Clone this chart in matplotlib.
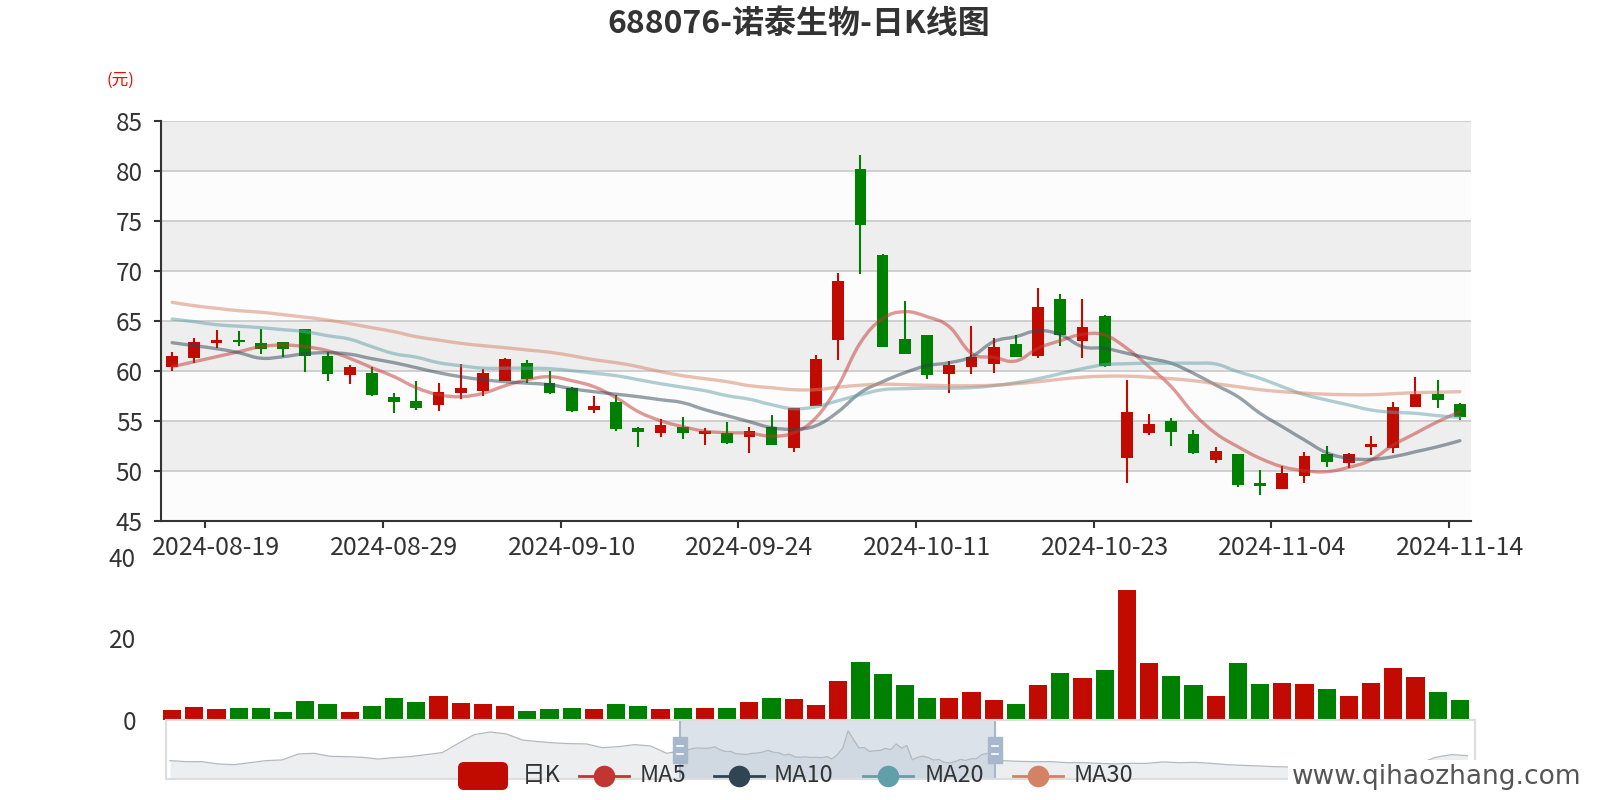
import numpy as np
import matplotlib.pyplot as plt
from matplotlib.patches import Rectangle, FancyBboxPatch, PathPatch
from matplotlib.path import Path
from matplotlib.transforms import blended_transform_factory

plt.rcParams['font.family'] = ['Noto Sans CJK SC', 'DejaVu Sans']

# ---- data ----
dates = ['2024-08-15', '2024-08-16', '2024-08-19', '2024-08-20', '2024-08-21', '2024-08-22',
         '2024-08-23', '2024-08-26', '2024-08-27', '2024-08-28', '2024-08-29', '2024-08-30',
         '2024-09-02', '2024-09-03', '2024-09-04', '2024-09-05', '2024-09-06', '2024-09-09',
         '2024-09-10', '2024-09-11', '2024-09-12', '2024-09-13', '2024-09-18', '2024-09-19',
         '2024-09-20', '2024-09-23', '2024-09-24', '2024-09-25', '2024-09-26', '2024-09-27',
         '2024-09-30', '2024-10-08', '2024-10-09', '2024-10-10', '2024-10-11', '2024-10-14',
         '2024-10-15', '2024-10-16', '2024-10-17', '2024-10-18', '2024-10-21', '2024-10-22',
         '2024-10-23', '2024-10-24', '2024-10-25', '2024-10-28', '2024-10-29', '2024-10-30',
         '2024-10-31', '2024-11-01', '2024-11-04', '2024-11-05', '2024-11-06', '2024-11-07',
         '2024-11-08', '2024-11-11', '2024-11-12', '2024-11-13', '2024-11-14']

opens = [60.40, 61.23, 62.73, 63.10, 62.77, 62.90, 64.14, 61.47, 59.60, 59.74, 57.40, 57.00,
         56.60, 57.80, 58.00, 58.97, 60.74, 58.80, 58.30, 56.10, 56.90, 54.24, 53.74, 54.34,
         53.64, 53.80, 53.40, 54.40, 52.24, 56.47, 63.07, 80.17, 71.57, 63.17, 63.57, 59.64,
         60.40, 60.67, 62.64, 61.50, 67.14, 63.00, 65.47, 51.30, 53.74, 54.97, 53.64, 51.07,
         51.67, 48.74, 48.14, 49.50, 51.67, 50.74, 52.34, 52.30, 56.40, 57.64, 56.67]
closes = [61.47, 62.90, 63.07, 62.87, 62.14, 62.14, 61.47, 59.67, 60.34, 57.60, 56.90, 56.24,
          57.87, 58.24, 59.74, 61.20, 59.20, 57.80, 55.97, 56.50, 54.14, 53.84, 54.57, 53.80,
          53.97, 52.80, 54.00, 52.57, 56.27, 61.14, 68.97, 74.60, 62.40, 61.64, 59.57, 60.57,
          61.40, 62.40, 61.40, 66.34, 63.57, 64.34, 60.50, 55.87, 54.64, 53.90, 51.74, 51.97,
          48.54, 48.47, 49.80, 51.50, 50.84, 51.67, 52.67, 56.40, 57.67, 57.07, 55.34]
highs = [61.90, 63.27, 64.07, 63.97, 64.17, 62.90, 64.14, 61.90, 60.57, 60.40, 57.74, 58.97,
         58.74, 60.67, 60.17, 61.30, 61.07, 60.00, 58.40, 57.47, 57.57, 54.40, 55.14, 55.40,
         54.24, 54.87, 54.34, 55.54, 56.27, 61.54, 69.74, 81.57, 71.67, 66.97, 63.57, 60.97,
         64.50, 63.24, 63.57, 68.24, 67.64, 67.17, 65.57, 59.07, 55.67, 55.24, 54.07, 52.34,
         51.67, 50.07, 50.47, 51.90, 52.47, 51.80, 53.47, 56.90, 59.34, 59.07, 56.80]
lows = [60.00, 60.80, 62.23, 62.50, 61.67, 61.37, 59.90, 59.00, 58.70, 57.50, 55.74, 56.07,
        56.00, 57.17, 57.47, 58.97, 58.74, 57.67, 55.90, 55.74, 54.00, 52.40, 53.34, 53.14,
        52.57, 52.67, 51.80, 52.57, 51.84, 56.47, 61.07, 69.67, 62.40, 61.64, 59.20, 57.80,
        59.64, 59.80, 61.34, 61.24, 62.50, 61.24, 60.40, 48.80, 53.57, 52.47, 51.64, 50.74,
        48.40, 47.57, 48.14, 48.74, 50.40, 50.24, 51.57, 51.74, 56.40, 56.24, 55.10]
volumes = [2.45, 3.26, 2.70, 2.87, 2.87, 2.04, 4.54, 3.93, 1.96, 3.44, 5.40, 4.42,
           5.96, 4.17, 3.93, 3.44, 2.20, 2.70, 2.94, 2.70, 3.93, 3.44, 2.70, 2.94,
           2.94, 2.94, 4.42, 5.40, 5.15, 3.68, 9.57, 14.30, 11.29, 8.59, 5.40, 5.47,
           6.87, 4.83, 3.85, 8.59, 11.53, 10.31, 12.27, 31.90, 13.91, 10.80, 8.59, 5.96,
           14.06, 8.91, 9.08, 8.76, 7.61, 5.82, 9.08, 12.76, 10.55, 6.94, 4.98]

ma5 = [60.40, 60.90, 61.40, 61.90, 62.40, 62.57, 62.40, 62.00, 61.24, 60.30, 59.40, 58.30,
       57.60, 57.40, 57.74, 58.50, 59.10, 59.40, 59.00, 58.40, 57.30, 55.90, 55.00, 54.40,
       53.95, 53.80, 53.75, 53.45, 53.80, 55.30, 58.50, 62.80, 65.20, 65.90, 65.40, 64.40,
       61.74, 61.34, 60.97, 62.24, 63.00, 63.64, 63.57, 62.24, 60.40, 58.40, 55.74, 53.74,
       52.40, 51.24, 50.40, 50.00, 49.90, 50.34, 51.07, 52.57, 53.74, 54.90, 55.90]
ma10 = [62.80, 62.50, 62.20, 61.80, 61.25, 61.40, 61.70, 61.80, 61.65, 61.20, 60.80, 60.30,
        59.80, 59.40, 59.10, 58.90, 58.75, 58.60, 58.20, 57.90, 57.65, 57.40, 57.10, 56.80,
        56.10, 55.50, 54.90, 54.30, 54.15, 54.50, 55.90, 57.80, 58.90, 59.80, 60.50, 60.80,
        61.40, 62.90, 63.40, 64.00, 63.60, 62.40, 62.24, 61.74, 61.24, 60.74, 59.74, 58.57,
        57.40, 55.74, 54.40, 53.07, 51.80, 51.24, 51.14, 51.40, 51.90, 52.40, 53.00]
ma20 = [65.17, 64.90, 64.60, 64.45, 64.30, 64.10, 63.90, 63.50, 63.15, 62.40, 61.70, 61.35,
        60.80, 60.50, 60.25, 60.25, 60.25, 60.20, 60.00, 59.75, 59.50, 59.10, 58.70, 58.35,
        58.00, 57.50, 57.15, 56.60, 56.20, 56.40, 57.00, 57.60, 58.10, 58.20, 58.25, 58.25,
        58.30, 58.50, 58.80, 59.20, 59.70, 60.20, 60.60, 60.70, 60.75, 60.75, 60.75, 60.67,
        59.90, 59.24, 58.40, 57.60, 57.07, 56.57, 56.07, 55.84, 55.74, 55.50, 55.34]
ma30 = [66.84, 66.50, 66.24, 66.00, 65.85, 65.60, 65.35, 65.07, 64.70, 64.30, 63.90, 63.40,
        63.07, 62.74, 62.50, 62.30, 62.07, 61.85, 61.50, 61.10, 60.80, 60.40, 59.90, 59.50,
        59.20, 58.90, 58.50, 58.30, 58.10, 58.10, 58.35, 58.55, 58.65, 58.60, 58.55, 58.50,
        58.50, 58.55, 58.70, 58.90, 59.15, 59.35, 59.45, 59.45, 59.35, 59.20, 59.00, 58.70,
        58.40, 58.10, 57.90, 57.75, 57.65, 57.60, 57.60, 57.70, 57.80, 57.85, 57.90]

# dataZoom shadow outside the window, one value every 3rd trading day
shadow_before = [50.5, 49.5, 49.5, 47.2, 46.5, 48.5, 50.5, 51.2, 57.1, 57.8, 54.8, 54.5,
                 53.8, 52.1, 53.5, 54.5, 56.5, 58.5, 67.7, 76.4, 79.0, 77.0, 71.0, 69.4,
                 68.1, 67.4, 67.1, 63.4, 64.4, 66.4, 65.1, 57.8]
shadow_after = [50.5, 49.8, 49.5, 49.5, 48.5, 48.5, 47.8, 47.2, 47.8, 47.8, 49.2, 48.5,
                48.8, 47.8, 46.5, 45.8, 45.2, 44.5, 44.2, 44.2, 44.5, 45.2, 45.8, 46.2,
                46.2, 46.8, 47.5, 53.8, 56.5, 55.5]

title = '688076-诺泰生物-日K线图'
legend_names = ['日K', 'MA5', 'MA10', 'MA20', 'MA30']

up_color = '#c20b00'
down_color = '#008000'
ma_colors = ['#c23531', '#2f4554', '#61a0a8', '#d48265']
text_color = '#333333'

W, H = 1600, 800
fig = plt.figure(figsize=(16, 8), dpi=100)


def px_axes(x0, y0, x1, y1):
    # axes placed by pixel box (top-left origin)
    return fig.add_axes([x0 / W, 1 - y1 / H, (x1 - x0) / W, (y1 - y0) / H])


def smooth_line(ax, xs, ys, t=0.2, **kw):
    # curved line through the points (bezier control points from neighbours)
    n = len(xs)
    verts = [(xs[0], ys[0])]
    codes = [Path.MOVETO]
    for i in range(n - 1):
        a, b = max(i - 1, 0), min(i + 2, n - 1)
        c1 = (xs[i] + t * (xs[i + 1] - xs[a]), ys[i] + t * (ys[i + 1] - ys[a]))
        c2 = (xs[i + 1] - t * (xs[b] - xs[i]), ys[i + 1] - t * (ys[b] - ys[i]))
        verts += [c1, c2, (xs[i + 1], ys[i + 1])]
        codes += [Path.CURVE4] * 3
    ax.add_patch(PathPatch(Path(verts, codes), fill=False, **kw))


x = np.arange(len(dates))
o = np.array(opens)
c = np.array(closes)
colors = np.where(c >= o, up_color, down_color)

# ---- price panel ----
ax = px_axes(161, 120.7, 1471, 520.7)
ax.set_xlim(-0.5, len(dates) - 0.5)
ax.set_ylim(45, 85)
for k, lo in enumerate(range(45, 85, 5)):
    ax.axhspan(lo, lo + 5, color='#eeeeee' if k % 2 else '#fcfcfc', lw=0, zorder=0)
for v in range(50, 90, 5):
    ax.axhline(v, color='#cccccc', lw=1.3, zorder=1)

ax.vlines(x, lows, highs, colors=colors, lw=1.5, zorder=3)
ax.bar(x, np.maximum(np.abs(c - o), 0.12), bottom=np.minimum(o, c), width=0.53,
       color=colors, zorder=3)
for vals, col in zip([ma5, ma10, ma20, ma30], ma_colors):
    smooth_line(ax, x, vals, edgecolor=col, alpha=0.5, lw=2.4, zorder=4,
                joinstyle='round', capstyle='round')

for s in ['top', 'right']:
    ax.spines[s].set_visible(False)
for s in ['left', 'bottom']:
    ax.spines[s].set_color(text_color)
    ax.spines[s].set_linewidth(1.5)
ax.set_yticks(range(45, 90, 5))
ax.tick_params(axis='y', length=5, width=1.5, color=text_color, pad=8,
               labelsize=17.5, labelcolor=text_color)
lab_idx = x[2::8]
ax.set_xticks(lab_idx)
ax.set_xticklabels([dates[i] for i in lab_idx])
ax.set_xticks(lab_idx - 0.5, minor=True)
ax.tick_params(axis='x', which='major', length=0, pad=10, labelsize=18, labelcolor=text_color)
ax.tick_params(axis='x', which='minor', length=5, width=1.5, color=text_color)

# ---- volume panel ----
axv = px_axes(161, 557, 1471, 720)
axv.set_xlim(-0.5, len(dates) - 0.5)
axv.set_ylim(0, 40)
axv.bar(x, volumes, width=0.82, color=colors)
for s in axv.spines.values():
    s.set_visible(False)
axv.set_xticks([])
axv.set_yticks([0, 20, 40])
axv.tick_params(axis='y', length=0, pad=18, labelsize=17.5, labelcolor=text_color)
axv.patch.set_alpha(0)

# ---- dataZoom slider ----
axs = px_axes(166, 720.3, 1475, 779)
n_before = 3 * len(shadow_before)
sx = np.concatenate([np.arange(len(shadow_before)) * 3 - n_before, x,
                     len(dates) + 1 + np.arange(len(shadow_after)) * 3])
sy = np.concatenate([shadow_before, opens, shadow_after])
axs.set_xlim(-n_before - 0.75, len(dates) - 0.5 + 89.9)
axs.set_ylim(32.25, 90.6)
axs.fill_between(sx, sy, 32.25, color=(236 / 255, 238 / 255, 240 / 255), lw=0)
axs.plot(sx, sy, color=(178 / 255, 186 / 255, 191 / 255), lw=0.9)
axs.axvspan(-0.5, len(dates) - 0.5, color=(167 / 255, 183 / 255, 204 / 255), alpha=0.4, lw=0)
tr = blended_transform_factory(axs.transData, axs.transAxes)
for edge in [-0.5, len(dates) - 0.5]:
    axs.axvline(edge, color='#a7b7cc', lw=1.5)
    axs.add_patch(Rectangle((edge - 1.3, 0.27), 2.6, 0.45, transform=tr,
                            color='#a7b7cc', zorder=5))
    for yy in [0.43, 0.56]:
        axs.plot([edge - 0.6, edge + 0.6], [yy, yy], transform=tr, color='white',
                 lw=1.2, zorder=6)
axs.set_xticks([])
axs.set_yticks([])
for s in axs.spines.values():
    s.set_color('#dddddd')
    s.set_linewidth(1.5)

# ---- overlay: title, unit, legend, watermark (pixel coords) ----
ov = fig.add_axes([0, 0, 1, 1])
ov.set_xlim(0, W)
ov.set_ylim(H, 0)
ov.axis('off')

ov.text(799, 24, title, ha='center', va='center', fontsize=23, fontweight='bold',
        color=text_color)
ov.text(120, 80, '(元)', ha='center', va='center', fontsize=12, color='red')

ly = 776
ov.add_patch(FancyBboxPatch((460, 764), 46, 24, boxstyle='round,pad=2,rounding_size=6',
                            color=up_color, lw=0))
ov.text(522, ly, legend_names[0], va='center', ha='left', fontsize=17, color=text_color)
icon_x = [579, 714, 863, 1013]
text_x = [640, 774, 925, 1074]
for name, col, ix, tx in zip(legend_names[1:], ma_colors, icon_x, text_x):
    ov.plot([ix, ix + 50], [ly, ly], color=col, lw=2)
    ov.plot([ix + 25], [ly], 'o', color=col, ms=15.5, mew=0)
    ov.text(tx, ly, name, va='center', ha='left', fontsize=17, color=text_color)

ov.text(1292, 777, 'www.qihaozhang.com', va='center', ha='left', fontsize=19,
        family='DejaVu Sans', color='#555555',
        bbox=dict(facecolor='white', edgecolor='none', pad=3))

fig.savefig('out.png', dpi=100)
